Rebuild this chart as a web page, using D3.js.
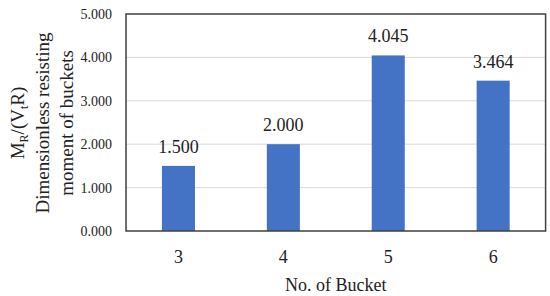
<!DOCTYPE html>
<html lang="en">
<head>
    <meta charset="UTF-8">
    <title>Buckets</title>
    <script src="https://cdn.jsdelivr.net/npm/d3@7"></script>
    <style>
        body { margin: 0; background: #fff; }
    </style>
</head>
<body>
    <div id="box"></div>
    <script>
        // data
        var buckets = ['3', '4', '5', '6'];
        var moments = [1.500, 2.000, 4.045, 3.464];
        var yTicks = [0, 1, 2, 3, 4, 5];

        let width = 550,
            height = 296;
        let plotL = 126, plotR = 545.6, plotT = 14, plotB = 231;
        const FONT = '"Liberation Serif"';

        var x = d3.scaleBand()
            .domain(buckets)
            .range([plotL, plotR])
            .paddingInner(0.685)
            .paddingOuter(0.3425);

        var y = d3.scaleLinear()
            .domain([0, 5])
            .range([plotB, plotT]);

        const svg = d3.select('#box')
            .append('svg')
            .attr('width', width)
            .attr('height', height);

        // gridlines
        svg.append('g')
            .selectAll('line')
            .data(yTicks.slice(1, -1))
            .enter()
            .append('line')
            .attr('x1', plotL).attr('x2', plotR)
            .attr('y1', d => y(d)).attr('y2', d => y(d))
            .attr('stroke', '#d9d9d9')
            .attr('stroke-width', 1);

        // bars
        svg.append('g')
            .selectAll('rect')
            .data(moments)
            .enter()
            .append('rect')
            .attr('x', (d, i) => x(buckets[i]))
            .attr('y', d => y(d))
            .attr('width', x.bandwidth())
            .attr('height', d => plotB - y(d))
            .attr('fill', '#4472c4');

        // value labels
        svg.append('g')
            .selectAll('text')
            .data(moments)
            .enter()
            .append('text')
            .attr('x', (d, i) => x(buckets[i]) + x.bandwidth() / 2)
            .attr('y', d => y(d) - 13)
            .attr('text-anchor', 'middle')
            .style('font-family', FONT)
            .style('font-size', '18px')
            .style('fill', '#222')
            .text(d => d3.format('.3f')(d));

        // frame
        svg.append('rect')
            .attr('x', plotL).attr('y', plotT)
            .attr('width', plotR - plotL).attr('height', plotB - plotT)
            .attr('fill', 'none')
            .attr('stroke', '#404040')
            .attr('stroke-width', 1.5);

        // y axis
        var yAxis = d3.axisLeft(y)
            .tickValues(yTicks)
            .tickSize(0)
            .tickPadding(14)
            .tickFormat(d3.format('.3f'));
        svg.append('g')
            .attr('transform', 'translate(' + plotL + ',0)')
            .call(yAxis)
            .call(g => g.select('.domain').remove())
            .selectAll('text')
            .style('font-family', FONT)
            .style('font-size', '14px')
            .style('fill', '#222');

        // x axis
        var xAxis = d3.axisBottom(x)
            .tickSize(0)
            .tickPadding(19);
        svg.append('g')
            .attr('transform', 'translate(0,' + plotB + ')')
            .call(xAxis)
            .call(g => g.select('.domain').remove())
            .selectAll('text')
            .style('font-family', FONT)
            .style('font-size', '18px')
            .style('fill', '#222');

        // axis titles
        svg.append('text')
            .attr('x', (plotL + plotR) / 2)
            .attr('y', 291)
            .attr('text-anchor', 'middle')
            .style('font-family', FONT)
            .style('font-size', '18px')
            .style('fill', '#222')
            .text('No. of Bucket');

        var yt = svg.append('text')
            .attr('transform', 'translate(0,123) rotate(-90)')
            .attr('text-anchor', 'middle')
            .style('font-family', FONT)
            .style('font-size', '19px')
            .style('fill', '#222');
        var l1 = yt.append('tspan').attr('x', 0).attr('y', 24);
        l1.append('tspan').text('M');
        l1.append('tspan').text('R').attr('dy', 4).style('font-size', '12px');
        l1.append('tspan').text('/(V').attr('dy', -4);
        l1.append('tspan').text('t').attr('dy', 4).style('font-size', '12px');
        l1.append('tspan').text('R)').attr('dy', -4);
        yt.append('tspan').attr('x', 0).attr('y', 49).text('Dimensionless resisting');
        yt.append('tspan').attr('x', 0).attr('y', 73).text('moment of buckets');
    </script>
</body>
</html>
